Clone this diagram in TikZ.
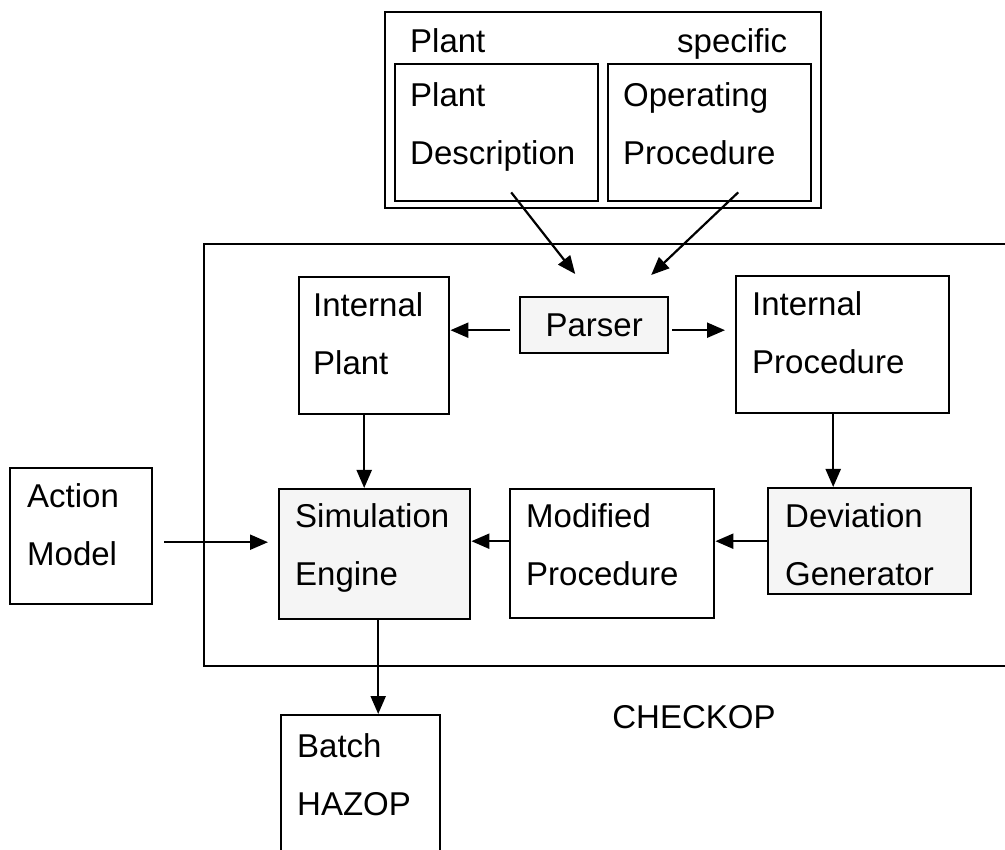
\documentclass[tikz,border=0pt]{standalone}
\usepackage{fontspec}
\setmainfont{Liberation Sans}
\usetikzlibrary{arrows.meta}

\begin{document}
\begin{tikzpicture}[x=1pt, y=-1pt,
  blk/.style={draw, line width=2.4pt, inner sep=0pt, anchor=north west},
  dots/.style={fill=black!4},
  lbl/.style={anchor=north west, inner sep=0pt, align=left, font=\fontsize{33}{58}\selectfont},
  arr/.style={-{Triangle[length=18pt,width=15pt]}, line width=2.2pt}]
  \useasboundingbox (0,0) rectangle (1005,850);
  % CHECKOP frame (runs off the right edge)
  \node[blk, minimum width=820, minimum height=422] (checkop) at (203,243) {};
  \node[font=\fontsize{33}{40}\selectfont] (checkoplbl) at (694,717) {CHECKOP};
  % Plant specific inputs
  \node[blk, minimum width=436, minimum height=196] (spec) at (384,11) {};
  \node[lbl] (spectxt) at ([shift={(26,17)}]spec.north west) {Plant};
  \node[lbl, anchor=north east] (spectxtb) at ([shift={(-35,17)}]spec.north east) {specific};
  \node[blk, minimum width=203, minimum height=137] (pd) at (394,63) {};
  \node[lbl] (pdtxt) at ([shift={(16,19)}]pd.north west) {Plant\\Description};
  \node[blk, minimum width=203, minimum height=137] (op) at (607,63) {};
  \node[lbl] (optxt) at ([shift={(16,19)}]op.north west) {Operating\\Procedure};
  % Blocks inside CHECKOP
  \node[blk, minimum width=150, minimum height=137] (iplant) at (298,276) {};
  \node[lbl] (iplanttxt) at ([shift={(15,16)}]iplant.north west) {Internal\\Plant};
  \node[blk, dots, minimum width=148, minimum height=56, font=\fontsize{33}{40}\selectfont] (parser) at (519,296) {Parser};
  \node[blk, minimum width=213, minimum height=137] (iproc) at (735,275) {};
  \node[lbl] (iproctxt) at ([shift={(17,16)}]iproc.north west) {Internal\\Procedure};
  \node[blk, dots, minimum width=191, minimum height=130] (sim) at (278,488) {};
  \node[lbl] (simtxt) at ([shift={(17,15)}]sim.north west) {Simulation\\Engine};
  \node[blk, minimum width=204, minimum height=129] (mod) at (509,488) {};
  \node[lbl] (modtxt) at ([shift={(17,15)}]mod.north west) {Modified\\Procedure};
  \node[blk, dots, minimum width=203, minimum height=106] (dev) at (767,487) {};
  \node[lbl] (devtxt) at ([shift={(18,16)}]dev.north west) {Deviation\\Generator};
  % Outside blocks
  \node[blk, minimum width=142, minimum height=136] (action) at (9,467) {};
  \node[lbl] (actiontxt) at ([shift={(18,16)}]action.north west) {Action\\Model};
  \node[blk, minimum width=159, minimum height=140] (batch) at (280,714) {};
  \node[lbl] (batchtxt) at ([shift={(17,19)}]batch.north west) {Batch\\HAZOP};
  % Arrows
  \draw[arr] ([shift={(14.5,-10)}]pd.south) -- ([shift={(-19,-22)}]parser.north);
  \draw[arr] ([shift={(28.5,-10)}]op.south) -- ([shift={(57,-21)}]parser.north);
  \draw[arr, shorten <=9pt] ([yshift=-5pt]parser.west) -- ([yshift=-5pt]parser.west -| iplant.east);
  \draw[arr, shorten <=3pt, shorten >=10pt] ([yshift=-5pt]parser.east) -- ([yshift=-5pt]parser.east -| iproc.west);
  \draw[arr] ([xshift=-10pt]iplant.south) -- ([xshift=-10pt]iplant.south |- sim.north);
  \draw[arr] ([xshift=-9.5pt]iproc.south) -- ([xshift=-9.5pt]iproc.south |- dev.north);
  \draw[arr, shorten <=11pt, shorten >=10pt] ([yshift=-6pt]action.east) -- ([yshift=-6pt]action.east -| sim.west);
  \draw[arr] ([yshift=12.5pt]mod.west) -- ([yshift=12.5pt]mod.west -| sim.east);
  \draw[arr] (dev.west) -- (dev.west -| mod.east);
  \draw[arr] ([xshift=3.5pt]sim.south) -- ([xshift=3.5pt]sim.south |- batch.north);
\end{tikzpicture}
\end{document}
